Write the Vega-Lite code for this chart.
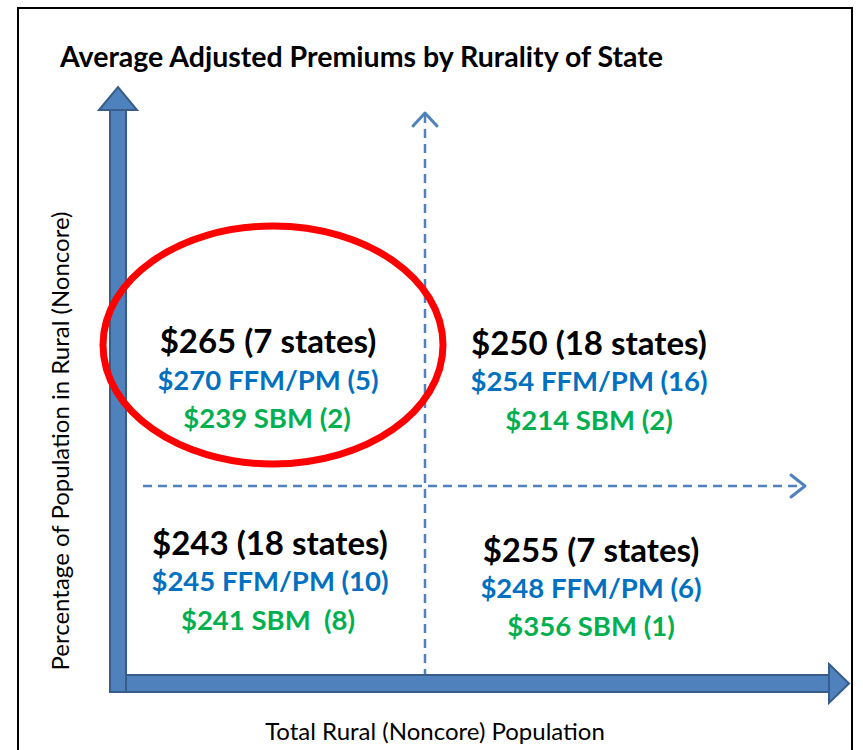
{
  "$schema": "https://vega.github.io/schema/vega-lite/v6.json",
  "width": 863,
  "height": 750,
  "padding": 0,
  "autosize": "none",
  "config": {"view": {"stroke": null}, "font": "Lato"},
  "datasets": {
    "frame": [{"x": 18, "x2": 852, "y": 8, "y2": 760}],
    "shafts": [
      {"part": "h", "x": 110, "x2": 831, "y": 675, "y2": 692},
      {"part": "v", "x": 110, "x2": 126, "y": 108, "y2": 692}
    ],
    "vhead": [
      {"x": 99, "y": 110, "y2": 110},
      {"x": 118, "y": 87, "y2": 110},
      {"x": 137, "y": 110, "y2": 110}
    ],
    "hhead": [
      {"y": 664, "x": 829, "x2": 829},
      {"y": 683.5, "x": 849, "x2": 829},
      {"y": 703, "x": 829, "x2": 829}
    ],
    "dashes": [
      {"x": 425, "x2": 425, "y": 114, "y2": 675},
      {"x": 143, "x2": 803, "y": 486, "y2": 486}
    ],
    "chevrons": [
      {"g": "v", "o": 1, "x": 413, "y": 126},
      {"g": "v", "o": 2, "x": 425, "y": 113},
      {"g": "v", "o": 3, "x": 437, "y": 126},
      {"g": "h", "o": 1, "x": 791, "y": 475},
      {"g": "h", "o": 2, "x": 805, "y": 486},
      {"g": "h", "o": 3, "x": 791, "y": 497}
    ],
    "ellipse": [{"x": 273, "y": 345}],
    "labels": [
      {"kind": "total", "x": 268, "y": 343, "text": "$265 (7 states)"},
      {"kind": "ffm", "x": 268, "y": 382, "text": "$270 FFM/PM (5)"},
      {"kind": "sbm", "x": 267, "y": 420, "text": "$239 SBM (2)"},
      {"kind": "total", "x": 589, "y": 345, "text": "$250 (18 states)"},
      {"kind": "ffm", "x": 589, "y": 383, "text": "$254 FFM/PM (16)"},
      {"kind": "sbm", "x": 589, "y": 422, "text": "$214 SBM (2)"},
      {"kind": "total", "x": 270, "y": 545, "text": "$243 (18 states)"},
      {"kind": "ffm", "x": 270, "y": 583, "text": "$245 FFM/PM (10)"},
      {"kind": "sbm", "x": 268, "y": 622, "text": "$241 SBM\u00a0 (8)"},
      {"kind": "total", "x": 591, "y": 552, "text": "$255 (7 states)"},
      {"kind": "ffm", "x": 591, "y": 590, "text": "$248 FFM/PM (6)"},
      {"kind": "sbm", "x": 591, "y": 628, "text": "$356 SBM (1)"}
    ],
    "title": [{"x": 60, "y": 58, "text": "Average Adjusted Premiums by Rurality of State"}],
    "xtitle": [{"x": 435, "y": 733, "text": "Total Rural (Noncore) Population"}],
    "ytitle": [{"x": 62, "y": 441, "text": "Percentage of Population in Rural (Noncore)"}]
  },
  "layer": [
    {
      "data": {"name": "frame"},
      "mark": {"type": "rect", "filled": false, "stroke": "#000000", "strokeWidth": 2},
      "encoding": {
        "x": {"field": "x", "type": "quantitative", "scale": {"domain": [0, 863], "nice": false, "zero": false}, "axis": null},
        "x2": {"field": "x2"},
        "y": {"field": "y", "type": "quantitative", "scale": {"domain": [0, 750], "nice": false, "zero": false, "reverse": true}, "axis": null},
        "y2": {"field": "y2"}
      }
    },
    {
      "data": {"name": "dashes"},
      "mark": {"type": "rule", "stroke": "#4F81BD", "strokeWidth": 2.5, "strokeDash": [9, 6]},
      "encoding": {
        "x": {"field": "x", "type": "quantitative"},
        "x2": {"field": "x2"},
        "y": {"field": "y", "type": "quantitative"},
        "y2": {"field": "y2"}
      }
    },
    {
      "data": {"name": "chevrons"},
      "mark": {"type": "line", "stroke": "#4F81BD", "strokeWidth": 3, "strokeCap": "round", "strokeJoin": "round"},
      "encoding": {
        "x": {"field": "x", "type": "quantitative"},
        "y": {"field": "y", "type": "quantitative"},
        "detail": {"field": "g"},
        "order": {"field": "o"}
      }
    },
    {
      "data": {"name": "shafts"},
      "mark": {"type": "rect", "fill": "#4F81BD", "stroke": "#385D8A", "strokeWidth": 2},
      "encoding": {
        "x": {"field": "x", "type": "quantitative"},
        "x2": {"field": "x2"},
        "y": {"field": "y", "type": "quantitative"},
        "y2": {"field": "y2"}
      }
    },
    {
      "data": {"name": "vhead"},
      "mark": {"type": "area", "orient": "vertical", "fill": "#4F81BD", "stroke": "#385D8A", "strokeWidth": 2, "opacity": 1, "fillOpacity": 1},
      "encoding": {
        "x": {"field": "x", "type": "quantitative"},
        "y": {"field": "y", "type": "quantitative"},
        "y2": {"field": "y2"}
      }
    },
    {
      "data": {"name": "hhead"},
      "mark": {"type": "area", "orient": "horizontal", "fill": "#4F81BD", "stroke": "#385D8A", "strokeWidth": 2, "opacity": 1, "fillOpacity": 1},
      "encoding": {
        "y": {"field": "y", "type": "quantitative"},
        "x": {"field": "x", "type": "quantitative"},
        "x2": {"field": "x2"}
      }
    },
    {
      "data": {"name": "ellipse"},
      "mark": {"type": "point", "shape": "M-1,0A1,0.7 0 1,1 1,0A1,0.7 0 1,1 -1,0Z", "size": 115600, "filled": false, "stroke": "#FF0000", "strokeWidth": 7, "opacity": 1},
      "encoding": {
        "x": {"field": "x", "type": "quantitative"},
        "y": {"field": "y", "type": "quantitative"}
      }
    },
    {
      "data": {"name": "labels"},
      "transform": [{"filter": "datum.kind === 'total'"}],
      "mark": {"type": "text", "fontSize": 33, "fontWeight": "bold", "align": "center", "baseline": "middle", "fill": "#000000"},
      "encoding": {
        "x": {"field": "x", "type": "quantitative"},
        "y": {"field": "y", "type": "quantitative"},
        "text": {"field": "text"}
      }
    },
    {
      "data": {"name": "labels"},
      "transform": [{"filter": "datum.kind !== 'total'"}],
      "mark": {"type": "text", "fontSize": 27.5, "fontWeight": "bold", "align": "center", "baseline": "middle"},
      "encoding": {
        "x": {"field": "x", "type": "quantitative"},
        "y": {"field": "y", "type": "quantitative"},
        "text": {"field": "text"},
        "color": {"field": "kind", "type": "nominal", "scale": {"domain": ["ffm", "sbm"], "range": ["#0070C0", "#00B050"]}, "legend": null}
      }
    },
    {
      "data": {"name": "title"},
      "mark": {"type": "text", "fontSize": 28.5, "fontWeight": "bold", "align": "left", "baseline": "middle", "fill": "#000000"},
      "encoding": {
        "x": {"field": "x", "type": "quantitative"},
        "y": {"field": "y", "type": "quantitative"},
        "text": {"field": "text"}
      }
    },
    {
      "data": {"name": "xtitle"},
      "mark": {"type": "text", "fontSize": 24, "align": "center", "baseline": "middle", "fill": "#000000"},
      "encoding": {
        "x": {"field": "x", "type": "quantitative"},
        "y": {"field": "y", "type": "quantitative"},
        "text": {"field": "text"}
      }
    },
    {
      "data": {"name": "ytitle"},
      "mark": {"type": "text", "fontSize": 24, "angle": 270, "align": "center", "baseline": "middle", "fill": "#000000"},
      "encoding": {
        "x": {"field": "x", "type": "quantitative"},
        "y": {"field": "y", "type": "quantitative"},
        "text": {"field": "text"}
      }
    }
  ]
}
